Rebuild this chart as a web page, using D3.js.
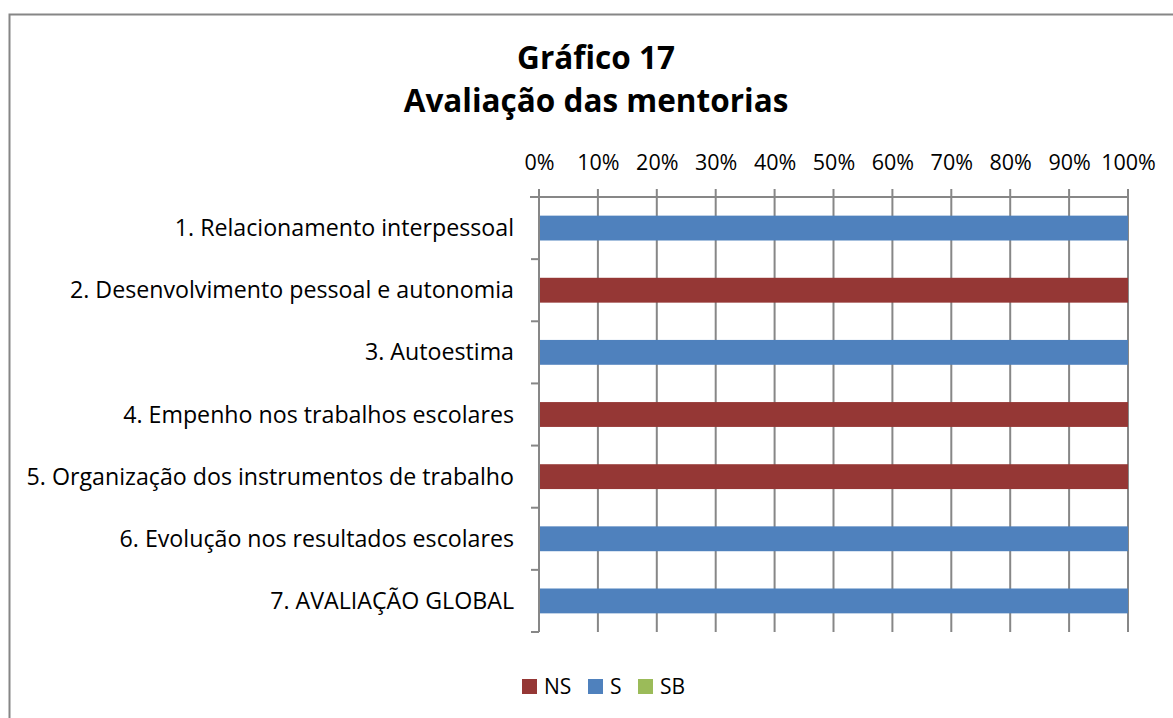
<!DOCTYPE html>
<html>
<head>
<meta charset="utf-8">
<script src="https://cdn.jsdelivr.net/npm/d3@7"></script>
<style>
  body { margin: 0; background: #fff; }
  text { font-family: "Open Sans", sans-serif; fill: #000; }
</style>
</head>
<body>
<svg id="chart" width="1173" height="718"></svg>
<script>
// data
var categories = [
	"1. Relacionamento interpessoal",
	"2. Desenvolvimento pessoal e autonomia",
	"3. Autoestima",
	"4. Empenho nos trabalhos escolares",
	"5. Organização dos instrumentos de trabalho",
	"6. Evolução nos resultados escolares",
	"7. AVALIAÇÃO GLOBAL"
];
var seriesNames = ["NS", "S", "SB"];
var NS = [0, 1, 0, 1, 1, 0, 0];
var S  = [1, 0, 1, 0, 0, 1, 1];
var SB = [0, 0, 0, 0, 0, 0, 0];
var seriesColors = ["#953735", "#4F81BD", "#9BBB59"];
var xTicks = [0, 0.1, 0.2, 0.3, 0.4, 0.5, 0.6, 0.7, 0.8, 0.9, 1];
var titleLines = ["Gráfico 17", "Avaliação das mentorias"];

var svg = d3.select("#chart");
var W = 1173, H = 718;
var pLeft = 539, pRight = 1128, pTop = 197, pBottom = 632;
var gridColor = "#878787";

//frame
svg.append("rect")
	.attr("x", 9.5).attr("y", 14.5)
	.attr("width", W + 20).attr("height", H + 20)
	.attr("fill", "#fff")
	.attr("stroke", "#868686")
	.attr("stroke-width", 2);

//title
svg.selectAll(".title")
	.data(titleLines)
	.enter().append("text")
	.attr("class", "title")
	.attr("x", 596)
	.attr("y", function(d, i) { return 69 + i * 43; })
	.attr("text-anchor", "middle")
	.attr("font-size", "31.5px")
	.attr("font-weight", "bold")
	.text(function(d) { return d; });

var x = d3.scaleLinear().domain([0, 1]).range([pLeft, pRight]);
var y = d3.scaleBand().domain(categories).range([pTop, pBottom])
	.paddingInner(0.6).paddingOuter(0.3);

//gridlines + top ticks
svg.append("g").selectAll("line")
	.data(xTicks)
	.enter().append("line")
	.attr("x1", function(d) { return x(d); })
	.attr("x2", function(d) { return x(d); })
	.attr("y1", pTop - 8)
	.attr("y2", pBottom)
	.attr("stroke", gridColor)
	.attr("stroke-width", 2);

//top axis labels
var xAxis = d3.axisTop(x).tickValues(xTicks).tickFormat(d3.format(".0%")).tickSize(0).tickPadding(0);
var gx = svg.append("g").attr("transform", "translate(0," + 170 + ")").call(xAxis);
gx.select(".domain").remove();
gx.selectAll("text")
	.attr("font-size", "21.5px")
	.attr("dy", 0)
	.style("font-family", "'Open Sans', sans-serif")
	.attr("fill", "#000");

//stacked bars
var table = categories.map(function(c, i) {
	return {cat: c, NS: NS[i], S: S[i], SB: SB[i]};
});
var stacked = d3.stack().keys(seriesNames)(table);

svg.append("g").selectAll("g")
	.data(stacked)
	.enter().append("g")
	.attr("fill", function(d, i) { return seriesColors[i]; })
	.selectAll("rect")
	.data(function(d) { return d; })
	.enter().append("rect")
	.attr("x", function(d) { return x(d[0]); })
	.attr("width", function(d) { return x(d[1]) - x(d[0]); })
	.attr("y", function(d) { return y(d.data.cat); })
	.attr("height", y.bandwidth());

//axis lines
svg.append("line")
	.attr("x1", pLeft - 9).attr("x2", pRight)
	.attr("y1", pTop).attr("y2", pTop)
	.attr("stroke", gridColor).attr("stroke-width", 2);
svg.append("line")
	.attr("x1", pLeft).attr("x2", pLeft)
	.attr("y1", pTop).attr("y2", pBottom)
	.attr("stroke", gridColor).attr("stroke-width", 2);

//category ticks at band edges
var step = y.step();
var edges = d3.range(categories.length + 1).map(function(i) { return pTop + i * step; });
svg.append("g").selectAll("line")
	.data(edges)
	.enter().append("line")
	.attr("x1", pLeft - 8).attr("x2", pLeft)
	.attr("y1", function(d) { return d; })
	.attr("y2", function(d) { return d; })
	.attr("stroke", gridColor).attr("stroke-width", 2);

//category labels
svg.append("g").selectAll("text")
	.data(categories)
	.enter().append("text")
	.attr("x", 514)
	.attr("y", function(d) { return y(d) + y.bandwidth() / 2; })
	.attr("dy", "0.35em")
	.attr("text-anchor", "end")
	.attr("font-size", "23.2px")
	.text(function(d) { return d; });

//legend
var legendX = [522, 588, 638];
var lg = svg.append("g").selectAll("g")
	.data(seriesNames)
	.enter().append("g")
	.attr("transform", function(d, i) { return "translate(" + legendX[i] + ",679)"; });
lg.append("rect")
	.attr("width", 15).attr("height", 15)
	.attr("fill", function(d, i) { return seriesColors[i]; });
lg.append("text")
	.attr("x", 22).attr("y", 15)
	.attr("font-size", "21px")
	.text(function(d) { return d; });
</script>
</body>
</html>
